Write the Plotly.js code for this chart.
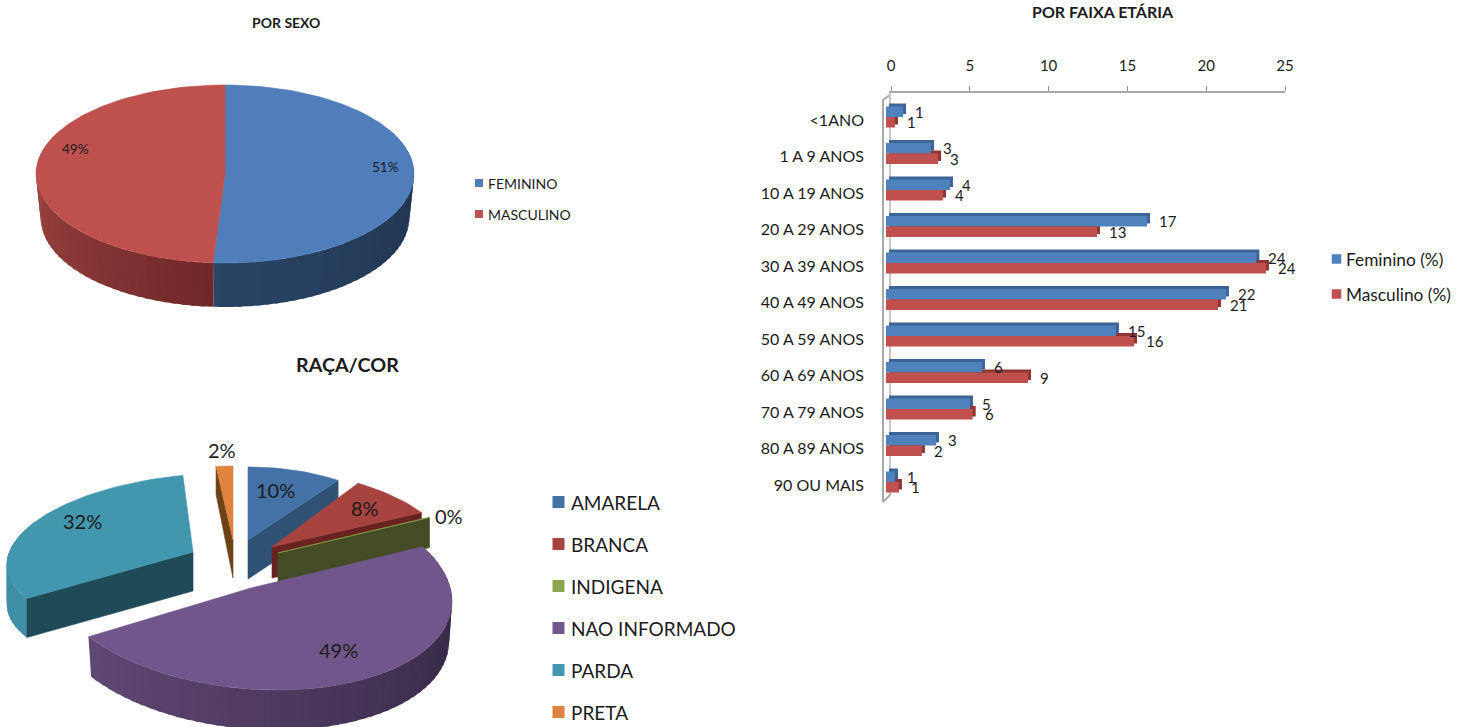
<!DOCTYPE html>
<html>
<head>
<meta charset="utf-8">
<script src="https://cdn.plot.ly/plotly-3.0.1.min.js"></script>
<style>html,body{margin:0;padding:0;background:#fff}#g{width:1465px;height:727px}</style>
</head>
<body>
<div id="g"></div>
<script>
// ---------- data ----------
const sexNames = ['FEMININO', 'MASCULINO'];
const sexValues = [51, 49];
const raceNames = ['AMARELA', 'BRANCA', 'INDIGENA', 'NAO INFORMADO', 'PARDA', 'PRETA'];
const raceValues = [9.8, 7.9, 0.2, 48.7, 31.6, 1.8];
const ageGroups = ['<1ANO', '1 A 9 ANOS', '10 A 19 ANOS', '20 A 29 ANOS', '30 A 39 ANOS', '40 A 49 ANOS',
  '50 A 59 ANOS', '60 A 69 ANOS', '70 A 79 ANOS', '80 A 89 ANOS', '90 OU MAIS'];
const femininoPct = [1.08, 2.86, 4.06, 16.56, 23.5, 21.57, 14.59, 6.09, 5.33, 3.17, 0.57];
const masculinoPct = [0.57, 3.3, 3.62, 13.39, 24.11, 21.07, 15.74, 9.01, 5.5, 2.28, 0.82];
const barSeriesNames = ['Feminino (%)', 'Masculino (%)'];
const valueTicks = [0, 5, 10, 15, 20, 25];

// ---------- styles ----------
const W = 1465, H = 727;
const FONT = 'Lato, "Noto Sans", sans-serif';
const INK = '#1c1c1c';
const traces = [], annotations = [];
const angleRanges = vals => {
  const tot = vals.reduce((a, b) => a + b, 0); let c = 0;
  return vals.map(v => { const a = c / tot * 360; c += v; return [a, c / tot * 360]; });
};
const rad = d => d * Math.PI / 180;
function pt(s, th, low) {
  const rx = low ? s.rx * (s.fx || 1) : s.rx, ry = s.ry;
  const yy = -ry * Math.cos(rad(th)), xx = rx * Math.sin(rad(th));
  return [s.cx + xx + (s.skew || 0) * yy, s.cy + yy + (s.skewY || 0) * xx + (low ? s.depth : 0)];
}
function poly(pts, color, name, lw) {
  traces.push({
    type: 'scatter', mode: 'lines', x: pts.map(p => p[0]), y: pts.map(p => p[1]),
    fill: 'toself', fillcolor: color, line: { color: color, width: lw === undefined ? 0.6 : lw },
    showlegend: false, hoverinfo: name ? 'name' : 'skip', name: name || '', xaxis: 'x', yaxis: 'y'
  });
}
const mix = (c1, c2, t) => 'rgb(' + c1.map((v, i) => Math.round(v + (c2[i] - v) * t)).join(',') + ')';
function outerWall(s, a, b) {
  if (!s.wall) return;
  const lo = Math.max(a, 60), hi = Math.min(b, 300);
  if (hi <= lo) return;
  const n = Math.max(4, Math.ceil((hi - lo) / 3));
  for (let i = 0; i < n; i++) {
    const t0 = lo + (hi - lo) * i / n;
    const t1 = Math.min(hi, lo + (hi - lo) * (i + 1) / n + 1.2);   // strips overlap so no seams show
    const arc = [], N = 3;
    for (let k = 0; k <= N; k++) arc.push(pt(s, t0 + (t1 - t0) * k / N, false));
    for (let k = N; k >= 0; k--) arc.push(pt(s, t0 + (t1 - t0) * k / N, true));
    poly(arc, mix(s.wall[0], s.wall[1], (i + 0.5) / n), '', 0);
  }
}
function innerFace(s, th) {
  const ap = [s.cx, s.cy], apB = [s.cx, s.cy + s.depth];
  const o = pt(s, th, false);
  const oB = [o[0], o[1] + (s.faceDepth || s.depth)];
  poly([ap, o, oB, apB, ap], s.inner);
}
function topFace(s, a, b, name) {
  const pts = [[s.cx, s.cy]], n = Math.max(4, Math.ceil((b - a) / 2));
  for (let i = 0; i <= n; i++) pts.push(pt(s, a + (b - a) * i / n, false));
  pts.push([s.cx, s.cy]);
  poly(pts, s.color, name);
}
function drawSlice(s, rng, name) {
  outerWall(s, rng[0], rng[1]);
  if (s.faceAt === 'start') innerFace(s, rng[0]);
  if (s.faceAt === 'end') innerFace(s, rng[1]);
  topFace(s, rng[0], rng[1], name);
}

// ---------- pie "por sexo" ----------
const sexRanges = angleRanges(sexValues);
const sexColors = ['#4F7EBA', '#BE504D'];
const sexShape = { cx: 225, cy: 174, rx: 189, ry: 89, depth: 44, fx: 0.975 };
drawSlice(Object.assign({}, sexShape, { color: sexColors[0], wall: [[28, 48, 72], [42, 68, 102]] }), sexRanges[0], sexNames[0]);
drawSlice(Object.assign({}, sexShape, { color: sexColors[1], wall: [[112, 40, 40], [168, 76, 72]] }), sexRanges[1], sexNames[1]);

// ---------- pie "raça/cor" ----------
const raceRanges = angleRanges(raceValues);
const raceColors = ['#4472A6', '#A6433F', '#8BA64C', '#70568A', '#4296AE', '#DE843E'];
const raceShapes = [
  { cx: 248, cy: 540, rx: 156, ry: 73, depth: 39, faceAt: 'end', inner: '#2F5274' },
  { cx: 272, cy: 547, rx: 176, ry: 78, skew: 0.245, depth: 31, faceAt: 'end', inner: '#6A2220' },
  { cx: 278, cy: 553, rx: 168, ry: 82, depth: 30, faceAt: 'end', inner: '#434C24' },
  { cx: 251, cy: 588, rx: 200, ry: 102, skew: 0.2, skewY: 0.015, depth: 40, fx: 0.985, wall: [[42, 32, 58], [96, 72, 116]] },
  { cx: 193, cy: 552, rx: 186, ry: 78, skew: -0.14, skewY: -0.045, depth: 39, faceAt: 'start', inner: '#1F4A58', wall: [[62, 142, 166], [62, 142, 166]] },
  { cx: 233, cy: 540, rx: 150, ry: 74, depth: 38, faceDepth: 28, faceAt: 'start', inner: '#6E4218' }
];
[0, 5, 1, 2, 4, 3].forEach(i => drawSlice(Object.assign({}, raceShapes[i], { color: raceColors[i] }), raceRanges[i], raceNames[i]));

// ---------- percent labels on the pies ----------
const pct = (vals, i) => Math.round(vals[i] / vals.reduce((a, b) => a + b, 0) * 100) + '%';
const sexLabelPos = [[385, 167], [75, 149]];
const raceLabelPos = [[275, 490], [365, 508], [449, 516], [338, 650], [82, 521], [222, 450]];
function pxText(x, y, text, size, opts) {
  annotations.push(Object.assign({ x, y, text, xref: 'x', yref: 'y', showarrow: false,
    xanchor: 'center', yanchor: 'middle', font: { family: FONT, size, color: INK } }, opts || {}));
}
sexLabelPos.forEach((p, i) => pxText(p[0], p[1], pct(sexValues, i), 13.5));
raceLabelPos.forEach((p, i) => pxText(p[0], p[1], pct(raceValues, i), 20));

// ---------- legends ----------
function addLegend(names, colors, xSw, ys, size, xText, fontSize) {
  traces.push({ type: 'scatter', mode: 'markers', x: names.map(() => xSw), y: ys,
    marker: { symbol: 'square', size, color: colors, line: { width: 0 } },
    showlegend: false, hoverinfo: 'skip', xaxis: 'x', yaxis: 'y' });
  names.forEach((n, i) => pxText(xText, ys[i], n, fontSize, { xanchor: 'left' }));
}
addLegend(sexNames, sexColors, 479, [183, 214], 8, 486, 14);
addLegend(raceNames, raceColors, 558.5, [502, 544, 586, 628, 670, 712], 12, 569, 19);
addLegend(barSeriesNames, ['#4F81BD', '#C0504D'], 1336.5, [259, 294], 9.5, 1344, 17.3);

// ---------- titles ----------
pxText(286, 22, '<b>POR SEXO</b>', 14);
pxText(1103, 11, '<b>POR FAIXA ETÁRIA</b>', 16);
pxText(347, 364, '<b>RAÇA/COR</b>', 19.7);

// ---------- bars (3D look: dark layer behind, face on top) ----------
const FACE = ['#4F81BD', '#C0504D'], DARK = ['#3C6496', '#8F3734'];
[femininoPct, masculinoPct].forEach((vals, i) => {
  traces.push({ type: 'bar', orientation: 'h', x: vals, y: ageGroups, marker: { color: DARK[i] },
    xaxis: 'x3', yaxis: 'y3', showlegend: false, hoverinfo: 'skip', name: barSeriesNames[i] });
});
[femininoPct, masculinoPct].forEach((vals, i) => {
  traces.push({ type: 'bar', orientation: 'h', x: vals, y: ageGroups, marker: { color: FACE[i] },
    xaxis: 'x4', yaxis: 'y4', showlegend: false, name: barSeriesNames[i] });
  vals.forEach((v, k) => annotations.push({
    x: v, y: ageGroups[k], xref: 'x4', yref: 'y4', text: String(Math.round(v)), showarrow: false,
    xanchor: 'left', yanchor: 'middle', xshift: 10, yshift: i === 0 ? 5.25 : -5.25,
    font: { family: FONT, size: 15, color: INK }
  }));
});
// invisible carrier for the tick axes
traces.push({ type: 'scatter', mode: 'markers', x: [0], y: [0], marker: { opacity: 0 }, xaxis: 'x2', yaxis: 'y2', showlegend: false, hoverinfo: 'skip' });

const dx = (a, b) => [a / W, b / W];
const dy = (topPx, botPx) => [1 - botPx / H, 1 - topPx / H];
const hidden = { visible: false, fixedrange: true };
const catAxis = (topPx, botPx, extra) => Object.assign({
  domain: dy(topPx, botPx), type: 'category', categoryorder: 'array', categoryarray: ageGroups,
  autorange: false, range: [10.5, -0.5], fixedrange: true, showgrid: false, zeroline: false
}, extra);

const grayLine = c => ({ type: 'line', xref: 'x', yref: 'y', layer: 'below', line: { color: c, width: 2 } });
const layout = {
  width: W, height: H, margin: { l: 0, r: 0, t: 0, b: 0 }, paper_bgcolor: '#fff', plot_bgcolor: 'rgba(0,0,0,0)',
  showlegend: false, barmode: 'group', bargap: 0.425, bargroupgap: 0, font: { family: FONT, color: INK },
  xaxis: Object.assign({ domain: [0, 1], range: [0, W], anchor: 'y' }, hidden),
  yaxis: Object.assign({ domain: [0, 1], range: [H, 0], anchor: 'x' }, hidden),
  // tick axes (back plane)
  xaxis2: { domain: dx(891, 1285), range: [0, 25], anchor: 'y2', side: 'top', tickvals: valueTicks, showgrid: false, zeroline: false,
    showline: true, linecolor: '#A8A8A8', linewidth: 2, ticks: 'outside', ticklen: 5, tickcolor: '#8C8C8C', tickwidth: 1,
    ticklabelstandoff: 9, tickfont: { family: FONT, size: 15, color: INK }, fixedrange: true },
  yaxis2: { domain: dy(93, 494), range: [0, 1], anchor: 'x2', showgrid: false, zeroline: false, showticklabels: false,
    showline: true, linecolor: '#C8C8C8', linewidth: 2, fixedrange: true },
  // shadow layer
  xaxis3: Object.assign({ domain: dx(889, 1283), range: [0, 25], anchor: 'y3' }, hidden),
  yaxis3: catAxis(95.75, 497.25, { anchor: 'x3', visible: false }),
  // face layer, with the category labels
  xaxis4: Object.assign({ domain: dx(886, 1280), range: [0, 25], anchor: 'y4' }, hidden),
  yaxis4: catAxis(98.75, 500.25, { anchor: 'x4', showline: false, ticks: '', ticklabelposition: 'outside',
    tickmode: 'array', tickvals: ageGroups, ticktext: ageGroups, ticklabelstandoff: 21, ticklabelshift: -3,
    tickfont: { family: FONT, size: 16, color: INK } }),
  shapes: [
    Object.assign(grayLine('#A8A8A8'), { x0: 883, y0: 100, x1: 883, y1: 502 }),
    Object.assign(grayLine('#A8A8A8'), { x0: 883, y0: 100, x1: 891, y1: 94 }),
    Object.assign(grayLine('#A8A8A8'), { x0: 883, y0: 502, x1: 891, y1: 494 })
  ],
  annotations
};
Plotly.newPlot('g', traces, layout, { displayModeBar: false, responsive: false });
</script>
</body>
</html>
